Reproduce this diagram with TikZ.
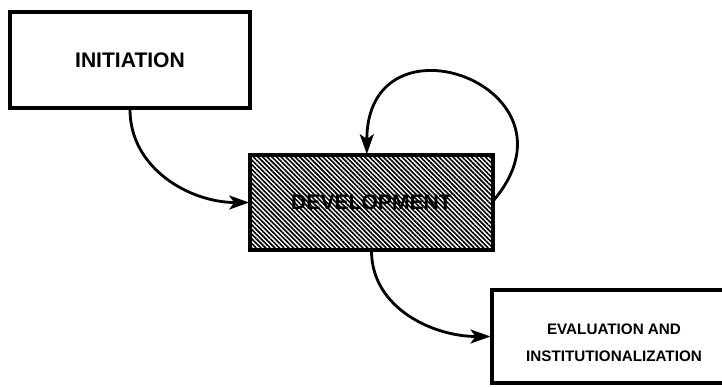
\documentclass[tikz,border=0pt]{standalone}
\usepackage{fontspec}
\setmainfont{Liberation Sans}
\usetikzlibrary{arrows.meta,patterns.meta}

\begin{document}
\begin{tikzpicture}[x=0.03cm, y=-0.03cm,
    stage/.style={draw, line width=2.6pt, inner sep=0pt, font=\fontsize{18}{21}\selectfont\bfseries},
    flow/.style={line width=2.4pt, -{Stealth[length=6mm, width=4.2mm, inset=1.5mm]}}]
    % Frame of the page
    \useasboundingbox (0,0) rectangle (722,386);
    \clip (0,0) rectangle (722,386);

    % Draw the three stages
    \node[stage, minimum width=7.2cm, minimum height=2.88cm] (initiation) at (130, 60) {INITIATION};
    \node[stage, minimum width=7.29cm, minimum height=2.85cm,
          pattern={Lines[angle=-45, distance=2.8pt, line width=1.4pt]}] (development) at (371.5, 202.5) {};
    \node[font=\fontsize{18}{21}\selectfont\bfseries] (devlabel) at (development) {DEVELOPMENT};
    \node[stage, minimum width=7.32cm, minimum height=2.79cm] (evaluation) at (614, 336.5) {};
    \node[align=center, font=\fontsize{13}{23}\selectfont\bfseries] (evallabel) at ([yshift=-0.2cm]evaluation) {EVALUATION AND\\INSTITUTIONALIZATION};

    % Draw the arrows
    \draw[flow] (initiation.south) to[out=-90, in=180] (development.west);
    \draw[flow] ([yshift=2pt]development.east) to[out=50, in=90, looseness=2.8] ([xshift=-4pt]development.north);
    \draw[flow] (development.south) to[out=-90, in=180] (evaluation.west);
\end{tikzpicture}
\end{document}
